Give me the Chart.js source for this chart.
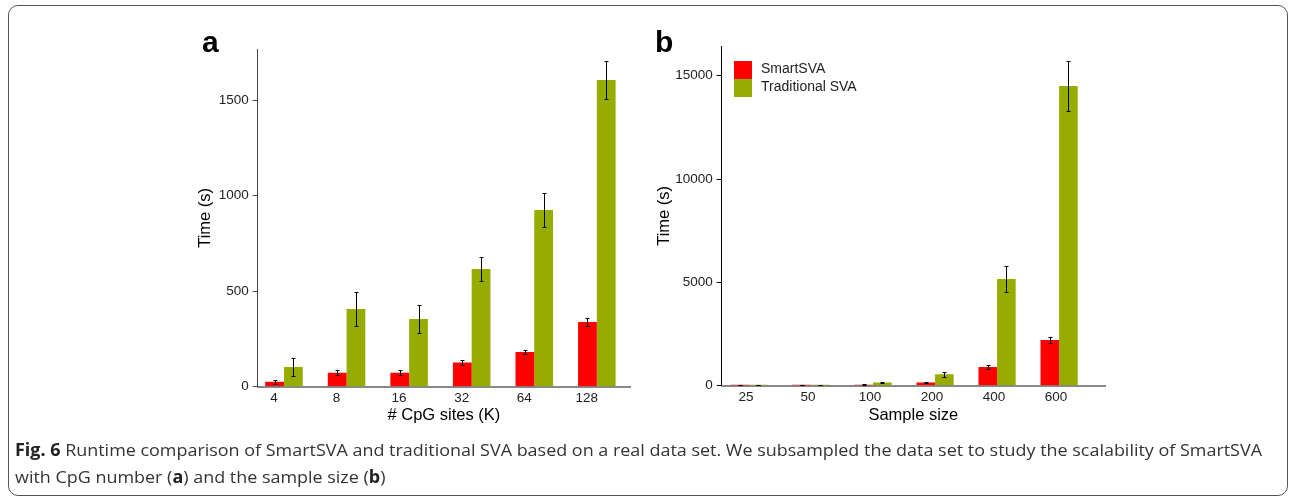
<!DOCTYPE html>
<html>
<head>
<meta charset="utf-8">
<script src="https://cdn.jsdelivr.net/npm/chart.js@4.4.0/dist/chart.umd.min.js"></script>
<style>
  html, body { margin: 0; padding: 0; background: #fff; }
  body { width: 1290px; height: 498px; position: relative; overflow: hidden; font-family: 'Liberation Sans', Arial, sans-serif; }
  .frame { position: absolute; left: 8px; top: 5px; width: 1278px; height: 489px; border: 1px solid #555; border-radius: 10px; }
  .panel { position: absolute; top: 0; }
  #chartA { left: 0; }
  #chartB { left: 645px; }
  .tag { position: absolute; font: bold 30px 'Liberation Sans', Arial, sans-serif; line-height: 1; color: #000; }
  .caption { position: absolute; left: 15px; top: 436px; font-family: 'Open Sans', sans-serif; font-size: 17px; line-height: 27px; color: #333; white-space: nowrap; transform-origin: 0 0; }
  .caption b { color: #222; }
</style>
</head>
<body>
<div class="frame"></div>
<canvas id="chartA" class="panel" width="645" height="440"></canvas>
<canvas id="chartB" class="panel" width="645" height="440"></canvas>
<div class="tag" style="left:202px; top:26.5px;">a</div>
<div class="tag" style="left:655px; top:26.5px;">b</div>
<div class="caption" id="caption"><span id="capLine1"><b>Fig. 6</b> Runtime comparison of SmartSVA and traditional SVA based on a real data set. We subsampled the data set to study the scalability of SmartSVA</span><br>with CpG number (<b>a</b>) and the sample size (<b>b</b>)</div>

<script>
// panel a: runtime vs number of CpG sites (thousands)
const cpgSites = ['4', '8', '16', '32', '64', '128'];
const cpgSmart = [26, 73, 73, 126, 182, 339];
const cpgSmartErr = [10, 14, 14, 12, 11, 20];
const cpgTrad = [103, 407, 354, 616, 924, 1605];
const cpgTradErr = [47, 90, 72, 61, 87, 100];

// panel b: runtime vs sample size
const sampleSizes = ['25', '50', '100', '200', '400', '600'];
const sampleSmart = [40, 40, 50, 160, 905, 2211];
const sampleSmartErr = [10, 10, 10, 30, 105, 137];
const sampleTrad = [40, 45, 150, 550, 5163, 14500];
const sampleTradErr = [10, 10, 25, 120, 653, 1194];

const seriesNames = ['SmartSVA', 'Traditional SVA'];
const RED = '#FF0000';
const GREEN = '#96AC00';
const FONT = "'Liberation Sans', Arial, sans-serif";

// draws mean +/- sd whiskers on top of each bar
const errorBars = {
    id: 'errorBars',
    afterDatasetsDraw(chart) {
        const ctx = chart.ctx;
        const yScale = chart.scales.y;
        ctx.save();
        ctx.strokeStyle = '#000';
        ctx.lineWidth = 1;
        chart.data.datasets.forEach((ds, i) => {
            chart.getDatasetMeta(i).data.forEach((bar, j) => {
                const v = ds.data[j].y;
                const e = ds.errors[j];
                const top = Math.round(yScale.getPixelForValue(v + e)) + 0.5;
                const bot = Math.round(yScale.getPixelForValue(Math.max(v - e, 0))) + 0.5;
                const x = Math.round(bar.x) + 0.5;
                ctx.beginPath();
                ctx.moveTo(x, top); ctx.lineTo(x, bot);
                ctx.moveTo(x - 2, top); ctx.lineTo(x + 2, top);
                ctx.moveTo(x - 2, bot); ctx.lineTo(x + 2, bot);
                ctx.stroke();
            });
        });
        ctx.restore();
    }
};

// legend drawn inside the plot area (top-left)
const insideLegend = {
    id: 'insideLegend',
    afterDraw(chart, args, opts) {
        if (!opts.display) return;
        const {ctx, chartArea} = chart;
        const x0 = chartArea.left + opts.x;
        const y0 = chartArea.top + opts.y;
        ctx.save();
        ctx.font = '14px ' + FONT;
        ctx.textBaseline = 'middle';
        chart.data.datasets.forEach((ds, i) => {
            const y = y0 + i * 18;
            ctx.fillStyle = ds.backgroundColor;
            ctx.fillRect(x0, y, 18, 18);
            ctx.fillStyle = '#222';
            ctx.fillText(ds.label, x0 + 27, y + 8);
        });
        ctx.restore();
    }
};

function makeChart(id, labels, smart, smartErr, trad, tradErr, cfg) {
    const toXY = arr => arr.map((v, i) => ({x: i, y: v}));
    return new Chart(document.getElementById(id), {
        type: 'bar',
        data: {
            datasets: [
                {label: seriesNames[0], data: toXY(smart), errors: smartErr, backgroundColor: RED},
                {label: seriesNames[1], data: toXY(trad), errors: tradErr, backgroundColor: GREEN}
            ]
        },
        options: {
            responsive: false,
            animation: false,
            layout: {padding: cfg.padding},
            datasets: {bar: {categoryPercentage: 0.6, barPercentage: 1}},
            plugins: {
                legend: {display: false},
                tooltip: {enabled: false},
                insideLegend: cfg.legend
            },
            scales: {
                x: {
                    type: 'linear',
                    min: cfg.xMin,
                    max: cfg.xMax,
                    offset: false,
                    // one tick per category, at the group centre
                    afterBuildTicks: s => { s.ticks = labels.map((_, i) => ({value: i})); },
                    afterFit: s => { s.height = cfg.xHeight; },
                    grid: {display: false, drawTicks: false},
                    border: {display: true, color: '#888', width: 2},
                    ticks: {
                        autoSkip: false,
                        padding: 3.5,
                        labelOffset: cfg.labelOffset,
                        color: '#222',
                        font: {family: FONT, size: 13.5},
                        callback: v => labels[Math.round(v)]
                    },
                    title: {display: true, text: cfg.xTitle, color: '#000', padding: 0, font: {family: FONT, size: 16.5}}
                },
                y: {
                    min: 0,
                    max: cfg.yMax,
                    afterBuildTicks: s => {
                        const t = [];
                        for (let v = 0; v <= cfg.yMax; v += cfg.yStep) t.push({value: v});
                        s.ticks = t;
                    },
                    afterFit: s => { s.width = cfg.yWidth; },
                    grid: {display: true, drawOnChartArea: false, drawTicks: true, tickLength: 5, color: cfg.yColor},
                    border: {display: true, color: cfg.yColor, width: 1},
                    ticks: {
                        autoSkip: false,
                        padding: 4,
                        color: '#222',
                        font: {family: FONT, size: 13.5},
                        callback: v => String(v)
                    },
                    title: {display: true, text: 'Time (s)', color: '#000', padding: 0, font: {family: FONT, size: 16.5}}
                }
            }
        },
        plugins: [errorBars, insideLegend]
    });
}

makeChart('chartA', cpgSites, cpgSmart, cpgSmartErr, cpgTrad, cpgTradErr, {
    padding: {left: 195.6, top: 49, right: 15, bottom: 14.6},
    yWidth: 62.1, xHeight: 38.7,
    xMin: -0.42, xMax: 5.53, labelOffset: -10,
    yMax: 1767, yStep: 500, yColor: '#444',
    xTitle: '# CpG sites (K)',
    legend: {display: false}
});

makeChart('chartB', sampleSizes, sampleSmart, sampleSmartErr, sampleTrad, sampleTradErr, {
    padding: {left: 9.1, top: 46, right: 185, bottom: 14.6},
    yWidth: 67.6, xHeight: 39.7,
    xMin: -0.44, xMax: 5.74, labelOffset: -3,
    yMax: 16437, yStep: 5000, yColor: '#000',
    xTitle: 'Sample size',
    legend: {display: true, x: 12.3, y: 15}
});

// squeeze the caption so its first line spans the same width as the figure's
const cap = document.getElementById('caption');
const w = document.getElementById('capLine1').getBoundingClientRect().width;
cap.style.transform = 'scaleX(' + (1247 / w) + ')';
</script>
</body>
</html>
